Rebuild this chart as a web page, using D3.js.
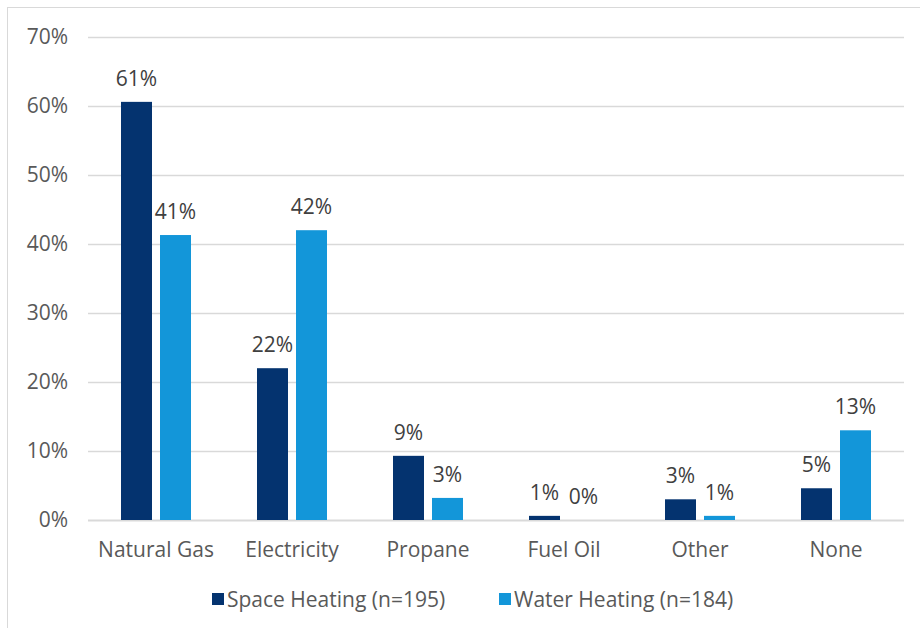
<!DOCTYPE html>
<html>
<head>
<meta charset="utf-8">
<script src="https://cdn.jsdelivr.net/npm/d3@7"></script>
<style>
  body { margin: 0; background: #fff; }
  text { font-family: "Open Sans", "Liberation Sans", sans-serif; }
</style>
</head>
<body>
<div id="chart"></div>
<script>
// data
const categories = ["Natural Gas", "Electricity", "Propane", "Fuel Oil", "Other", "None"];
const spaceHeating = [60.6, 22.0, 9.3, 0.6, 3.0, 4.6];
const waterHeating = [41.3, 42.0, 3.2, 0.0, 0.6, 13.0];
const seriesNames = ["Space Heating (n=195)", "Water Heating (n=184)"];
const yTicks = [0, 10, 20, 30, 40, 50, 60, 70];

const colors = ["#04336F", "#1396D9"];
const width = 920, height = 628;
const margin = {left: 88, right: 16, top: 37, bottom: 108};

const svg = d3.select("#chart").append("svg")
    .attr("width", width)
    .attr("height", height);

// outer frame
svg.append("rect")
    .attr("x", 7.5).attr("y", 7.5)
    .attr("width", width).attr("height", height)
    .attr("fill", "none")
    .attr("stroke", "#d9d9d9");

const x = d3.scaleBand()
    .domain(categories)
    .range([margin.left, margin.left + 816]);

// two bars of 31px with an 8px gap, centred in each band
const x1 = d3.scaleBand()
    .domain([0, 1])
    .range([33, 103])
    .paddingInner(8 / 39);

const y = d3.scaleLinear()
    .domain([0, 70])
    .range([520, 37]);

// gridlines
svg.append("g").selectAll("line")
  .data(yTicks)
  .enter().append("line")
    .attr("x1", margin.left).attr("x2", margin.left + 816)
    .attr("y1", d => Math.round(y(d)) + 0.5)
    .attr("y2", d => Math.round(y(d)) + 0.5)
    .attr("stroke", "#d9d9d9")
    .attr("stroke-width", d => d === 0 ? 2 : 1.3);

// y tick labels
svg.append("g").selectAll("text")
  .data(yTicks)
  .enter().append("text")
    .attr("x", 68)
    .attr("y", d => y(d))
    .attr("dy", "0.35em")
    .attr("text-anchor", "end")
    .attr("fill", "#595959")
    .style("font-size", "21px")
    .text(d => d + "%");

const series = [spaceHeating, waterHeating];

const groups = svg.append("g").selectAll("g")
  .data(categories)
  .enter().append("g")
    .attr("transform", d => "translate(" + x(d) + ",0)");

const bars = groups.selectAll("g")
  .data((c, i) => series.map((s, k) => ({k: k, v: s[i]})))
  .enter().append("g");

bars.append("rect")
    .attr("x", d => x1(d.k))
    .attr("width", x1.bandwidth())
    .attr("y", d => y(d.v))
    .attr("height", d => y(0) - y(d.v))
    .attr("fill", d => colors[d.k]);

bars.append("text")
    .attr("x", d => x1(d.k) + x1.bandwidth() / 2)
    .attr("y", d => y(d.v) - 16)
    .attr("text-anchor", "middle")
    .attr("fill", "#404040")
    .style("font-size", "21px")
    .text(d => Math.round(d.v) + "%");

// category labels
svg.append("g").selectAll("text")
  .data(categories)
  .enter().append("text")
    .attr("x", d => x(d) + x.bandwidth() / 2)
    .attr("y", 557)
    .attr("text-anchor", "middle")
    .attr("fill", "#595959")
    .style("font-size", "21px")
    .text(d => d);

// legend
const legendX = [212, 499];
const legend = svg.append("g").selectAll("g")
  .data(seriesNames)
  .enter().append("g")
    .attr("transform", (d, i) => "translate(" + legendX[i] + ",593)");

legend.append("rect")
    .attr("width", 12).attr("height", 12)
    .attr("fill", (d, i) => colors[i]);

legend.append("text")
    .attr("x", 15)
    .attr("y", 14)
    .attr("fill", "#595959")
    .style("font-size", "21px")
    .text(d => d);
</script>
</body>
</html>
